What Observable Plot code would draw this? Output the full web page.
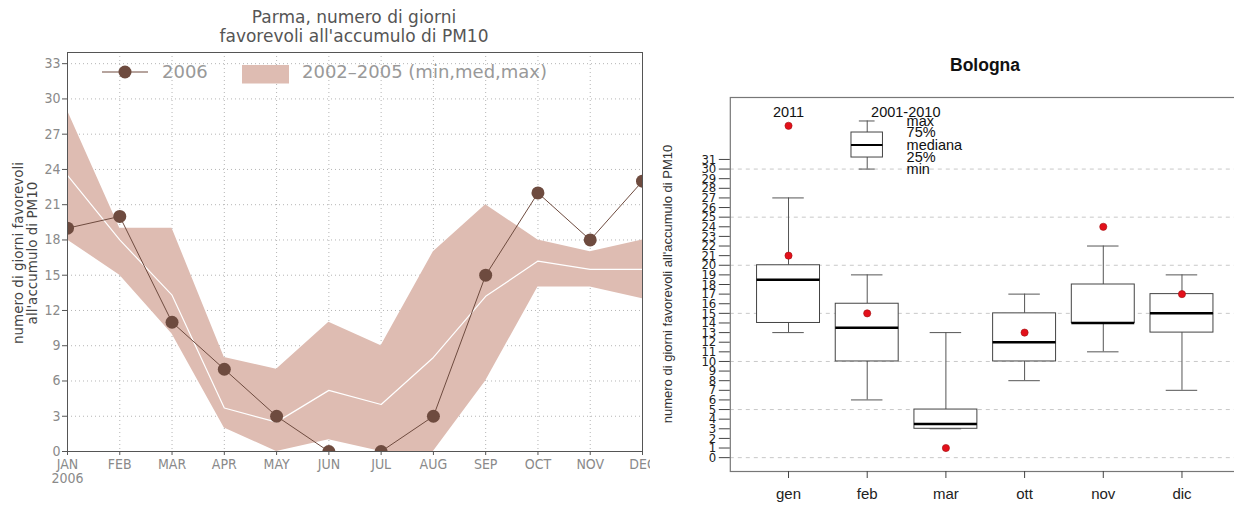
<!DOCTYPE html>
<html><head><meta charset="utf-8">
<script src="https://cdn.jsdelivr.net/npm/d3@7"></script>
<script src="https://cdn.jsdelivr.net/npm/@observablehq/plot@0.6"></script>
<style>
html,body{margin:0;padding:0;width:1234px;height:507px;overflow:hidden;background:#fff;}
#wrap{position:relative;width:1234px;height:507px;overflow:hidden;}
.abs{position:absolute;white-space:pre;}
</style></head><body><div id="wrap"></div>
<script>
// ---------- Parma (left) ----------
const months = ["JAN","FEB","MAR","APR","MAY","JUN","JUL","AUG","SEP","OCT","NOV","DEC"];
const firstYearLabel = "2006";
const y2006   = [19, 20, 11, 7, 3, 0, 0, 3, 15, 22, 18, 23];
const bandMin = [18, 15, 10, 2, 0, 1, 0, 0, 6, 14, 14, 13];
const bandMed = [23.5, 18, 13.3, 3.7, 2.5, 5.2, 4, 8, 13.2, 16.2, 15.5, 15.5];
const bandMax = [29, 19, 19, 8, 7, 11, 9, 17, 21, 18, 17, 18];
const parmaTicks = d3.range(0, 34, 3);

// ---------- Bologna (right) ----------
const bolCats = ["gen","feb","mar","ott","nov","dic"];
const bolMin = [13, 6, 3, 8, 11, 7];
const bolQ1  = [14, 10, 3, 10, 14, 13];
const bolMed = [18.5, 13.5, 3.5, 12, 14, 15];
const bolQ3  = [20, 16, 5, 15, 18, 17];
const bolMax = [27, 19, 13, 17, 22, 19];
const bol2011 = [21, 15, 1, 13, 24, 17];
const bolTicks = d3.range(0, 32);
const bolGrid = d3.range(0, 31, 5);
// legend drawn inside the Bologna plot
const legYearText = "2011", legRangeText = "2001-2010";
const legStatLabels = ["max", "75%", "mediana", "25%", "min"];
const legStatValues = [35.0, 33.8, 32.5, 31.2, 30.0];
const legTextY = 35.9, legDotY = 34.5;

const wrap = document.getElementById("wrap");
const BROWN = "#6e4b3f", BAND = "#debcb2";

const parma = months.map((m, i) => ({i, m, v: y2006[i], lo: bandMin[i], med: bandMed[i], hi: bandMax[i]}));

const left = Plot.plot({
  width: 650, height: 507,
  marginLeft: 67, marginRight: 8, marginTop: 52, marginBottom: 56,
  x: {domain: [0, 11]},
  y: {domain: [0, 33.95]},
  style: {fontFamily: "'DejaVu Sans Condensed','DejaVu Sans',sans-serif", fontSize: "14px", color: "#8a8a8a", background: "#fff", overflow: "hidden"},
  marks: [
    Plot.gridY(parmaTicks, {stroke: "#b5b5b5", strokeOpacity: 1, strokeDasharray: "1,3"}),
    Plot.gridX(d3.range(12), {stroke: "#b5b5b5", strokeOpacity: 1, strokeDasharray: "1,3"}),
    Plot.areaY(parma, {x: "i", y1: "lo", y2: "hi", fill: BAND, clip: true}),
    Plot.lineY(parma, {x: "i", y: "med", stroke: "#fff", strokeWidth: 1.2, clip: true}),
    Plot.lineY(parma, {x: "i", y: "v", stroke: BROWN, strokeWidth: 1, clip: true}),
    Plot.dot(parma, {x: "i", y: "v", r: 6.5, fill: BROWN, clip: true}),
    Plot.frame({stroke: "#555"}),
    Plot.axisY(parmaTicks, {tickSize: 5, tickPadding: 2, label: null, stroke: "#555"}),
    Plot.axisX(d3.range(12), {tickFormat: i => months[i], tickSize: 4, tickPadding: 4, label: null, stroke: "#555"}),
    Plot.text([firstYearLabel], {x: [0], frameAnchor: "bottom", dy: 31, text: d => d})
  ]
});
left.style.position = "absolute"; left.style.left = "0px"; left.style.top = "0px";
wrap.appendChild(left);

function addDiv(html, css) {
  const d = document.createElement("div");
  d.className = "abs"; d.textContent = html;
  Object.assign(d.style, css);
  wrap.appendChild(d);
  return d;
}

// left title
addDiv("Parma, numero di giorni\nfavorevoli all'accumulo di PM10", {
  left: "354px", top: "8px", transform: "translateX(-50%)", textAlign: "center",
  font: "17px 'DejaVu Sans',sans-serif", lineHeight: "19px", color: "#555"
});
// left y label
addDiv("numero di giorni favorevoli\nall'accumulo di PM10", {
  left: "25px", top: "253px", transform: "translate(-50%,-50%) rotate(-90deg)", textAlign: "center",
  font: "13.5px 'DejaVu Sans',sans-serif", lineHeight: "14px", color: "#444"
});
// left legend
const legSvg = document.createElementNS("http://www.w3.org/2000/svg", "svg");
legSvg.setAttribute("width", "520"); legSvg.setAttribute("height", "40");
Object.assign(legSvg.style, {position: "absolute", left: "90px", top: "54px"});
legSvg.innerHTML = `
  <line x1="12" y1="18" x2="58" y2="18" stroke="${BROWN}" stroke-width="1.2"/>
  <circle cx="35" cy="18" r="6.5" fill="${BROWN}"/>
  <text x="72" y="18" dy="0.36em" font-family="DejaVu Sans" font-size="18" fill="#999">2006</text>
  <rect x="152" y="11" width="47" height="18.5" fill="${BAND}"/>
  <text x="212" y="18" dy="0.36em" font-family="DejaVu Sans" font-size="18" fill="#999">2002–2005 (min,med,max)</text>`;
wrap.appendChild(legSvg);

// ---------- Bologna plot ----------
const bol = bolCats.map((c, k) => ({i: k + 1, c, lo: bolMin[k], q1: bolQ1[k], med: bolMed[k], q3: bolQ3[k], hi: bolMax[k], v: bol2011[k]}));
const legBox = [{i: 2, lo: legStatValues[4], q1: legStatValues[3], med: legStatValues[2], q3: legStatValues[1], hi: legStatValues[0]}];
const W = 0.4, C = 0.2, LW = 0.2, LC = 0.1;
const FONT_R = "'Liberation Sans',Arial,Helvetica,sans-serif";

const right = Plot.plot({
  width: 592, height: 507,
  marginLeft: 79.8, marginRight: 2.3, marginTop: 97, marginBottom: 36,
  x: {domain: [0.26, 6.74]},
  y: {domain: [-1.44, 37.44]},
  style: {fontFamily: FONT_R, fontSize: "15px", color: "#222", background: "#fff", overflow: "hidden"},
  marks: [
    Plot.ruleY(bolGrid, {stroke: "#c8c8c8", strokeDasharray: "4,4"}),
    // whiskers
    Plot.ruleX(bol, {x: "i", y1: "lo", y2: "q1", stroke: "#555"}),
    Plot.ruleX(bol, {x: "i", y1: "q3", y2: "hi", stroke: "#555"}),
    Plot.ruleY(bol, {y: "lo", x1: d => d.i - C, x2: d => d.i + C, stroke: "#555"}),
    Plot.ruleY(bol, {y: "hi", x1: d => d.i - C, x2: d => d.i + C, stroke: "#555"}),
    Plot.rect(bol, {x1: d => d.i - W, x2: d => d.i + W, y1: "q1", y2: "q3", fill: "#fff", stroke: "#444"}),
    Plot.ruleY(bol, {y: "med", x1: d => d.i - W, x2: d => d.i + W, stroke: "#000", strokeWidth: 2.5}),
    Plot.dot(bol, {x: "i", y: "v", r: 3.6, fill: "#e3101b", stroke: "#a01414", strokeWidth: 0.6}),
    // legend
    Plot.ruleX(legBox, {x: "i", y1: "lo", y2: "q1", stroke: "#555"}),
    Plot.ruleX(legBox, {x: "i", y1: "q3", y2: "hi", stroke: "#555"}),
    Plot.ruleY(legBox, {y: "lo", x1: d => d.i - LC, x2: d => d.i + LC, stroke: "#555"}),
    Plot.ruleY(legBox, {y: "hi", x1: d => d.i - LC, x2: d => d.i + LC, stroke: "#555"}),
    Plot.rect(legBox, {x1: d => d.i - LW, x2: d => d.i + LW, y1: "q1", y2: "q3", fill: "#fff", stroke: "#444"}),
    Plot.ruleY(legBox, {y: "med", x1: d => d.i - LW, x2: d => d.i + LW, stroke: "#000", strokeWidth: 2}),
    Plot.dot([legDotY], {x: [1], y: d => d, r: 3.6, fill: "#e3101b", stroke: "#a01414", strokeWidth: 0.6}),
    Plot.text([legYearText], {x: [1], y: [legTextY], text: d => d, fontSize: 14.5, fill: "#111"}),
    Plot.text([legRangeText], {x: [2.49], y: [legTextY], text: d => d, fontSize: 14.5, fill: "#111"}),
    Plot.text(legStatLabels, {x: legStatLabels.map(() => 2.5), y: legStatValues, text: d => d, textAnchor: "start", fontSize: 14.5, fill: "#111"}),
    Plot.frame({stroke: "#777", strokeWidth: 1.2}),
    Plot.axisY(bolTicks, {tickSize: 11, tickPadding: 3, label: null, fontSize: 13, fontFamily: "'Liberation Sans Narrow','DejaVu Sans Condensed',sans-serif", stroke: "#444"}),
    Plot.axisX([1, 2, 3, 4, 5, 6], {tickFormat: i => bolCats[i - 1], tickSize: 7, tickPadding: 10, label: null, fontSize: 15, stroke: "#444"})
  ]
});
right.style.position = "absolute"; right.style.left = "650px"; right.style.top = "0px";
wrap.appendChild(right);

addDiv("Bologna", {
  left: "985px", top: "55px", transform: "translateX(-50%)",
  font: "bold 17.5px 'Liberation Sans',Arial,sans-serif", color: "#111"
});
addDiv("numero di giorni favorevoli all'accumulo di PM10", {
  left: "667px", top: "284px", transform: "translate(-50%,-50%) rotate(-90deg)",
  font: "13px 'Liberation Sans',Arial,sans-serif", color: "#333"
});
</script></body></html>
